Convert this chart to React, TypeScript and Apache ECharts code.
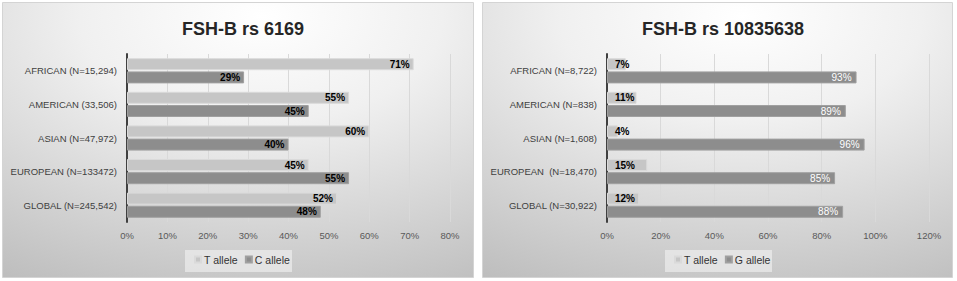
import React, { useEffect, useRef } from "react";
import * as echarts from "echarts";

const categoriesLeft = [
  "AFRICAN (N=15,294)",
  "AMERICAN (33,506)",
  "ASIAN (N=47,972)",
  "EUROPEAN (N=133472)",
  "GLOBAL (N=245,542)",
];
const tAlleleLeft = [71, 55, 60, 45, 52];
const cAlleleLeft = [29, 45, 40, 55, 48];

const categoriesRight = [
  "AFRICAN (N=8,722)",
  "AMERICAN (N=838)",
  "ASIAN (N=1,608)",
  "EUROPEAN  (N=18,470)",
  "GLOBAL (N=30,922)",
];
const tAlleleRight = [7, 11, 4, 15, 12];
const gAlleleRight = [93, 89, 96, 85, 88];

const titles = ["FSH-B rs 6169", "FSH-B rs 10835638"];
const legendLeft = ["T allele", "C allele"];
const legendRight = ["T allele", "G allele"];

const FONT = "'Liberation Sans', Arial, sans-serif";
const LIGHT = "#c6c6c6";
const DARK = "#8d8d8d";

export default function App() {
  const ref = useRef<HTMLDivElement>(null);
  useEffect(() => {
    if (!ref.current) return;
    const chart = echarts.init(ref.current, undefined, { renderer: "svg" });
    const bg = {
      type: "radial",
      x: 0.55,
      y: 0.05,
      r: 1.1,
      colorStops: [
        { offset: 0, color: "#ffffff" },
        { offset: 0.35, color: "#f0f0f0" },
        { offset: 1, color: "#bdbdbd" },
      ],
    };
    const panel = (x: number, w: number) => ({
      type: "rect",
      z: -100,
      shape: { x, y: 2.5, width: w, height: 275 },
      style: { fill: bg, stroke: "#d4d4d4", lineWidth: 1 },
    });
    const legendBox = (x: number) => ({
      type: "rect",
      z: -90,
      shape: { x, y: 250, width: 107, height: 22 },
      style: { fill: "rgba(240,240,240,0.65)" },
    });
    const yAxisCommon = {
      type: "category",
      inverse: true,
      axisTick: { show: false },
      axisLine: { show: true, lineStyle: { color: "#404040", width: 2 } },
      axisLabel: { color: "#404040", fontSize: 9.5, fontFamily: FONT, margin: 10 },
    };
    const xAxisCommon = {
      type: "value",
      min: 0,
      axisLine: { show: false },
      axisTick: { show: false },
      splitLine: { show: true, lineStyle: { color: "#d9d9d9", width: 1 } },
      axisLabel: {
        color: "#595959",
        fontSize: 9.5,
        fontFamily: FONT,
        margin: 8,
        formatter: "{value}%",
      },
    };
    const barCommon = {
      type: "bar",
      barWidth: 12,
      barGap: "10%",
    };
    const boldLabel = {
      show: true,
      color: "#000",
      fontWeight: "bold",
      fontSize: 10,
      fontFamily: FONT,
      formatter: "{c}%",
    };
    const legendCommon = {
      top: 249,
      icon: "rect",
      itemWidth: 6,
      itemHeight: 6,
      itemGap: 7,
      textStyle: { fontSize: 10.5, color: "#333333", fontFamily: FONT, padding: [0, 0, 0, -2] },
    };
    chart.setOption({
      animation: false,
      graphic: [panel(2.5, 471), panel(482.5, 470), legendBox(185), legendBox(665)],
      title: [
        {
          text: titles[0],
          left: 238,
          textAlign: "center",
          top: 15,
          textStyle: { fontSize: 18, fontWeight: "bold", color: "#262626", fontFamily: FONT },
        },
        {
          text: titles[1],
          left: 718,
          textAlign: "center",
          top: 15,
          textStyle: { fontSize: 18, fontWeight: "bold", color: "#262626", fontFamily: FONT },
        },
      ],
      legend: [
        { ...legendCommon, data: legendLeft, left: 189 },
        { ...legendCommon, data: legendRight, left: 669 },
      ],
      grid: [
        { left: 127, right: 957 - 450, top: 54, bottom: 59 },
        { left: 607, right: 957 - 929, top: 54, bottom: 59 },
      ],
      xAxis: [
        { ...xAxisCommon, gridIndex: 0, max: 80, interval: 10 },
        { ...xAxisCommon, gridIndex: 1, max: 120, interval: 20 },
      ],
      yAxis: [
        { ...yAxisCommon, gridIndex: 0, data: categoriesLeft },
        { ...yAxisCommon, gridIndex: 1, data: categoriesRight },
      ],
      series: [
        {
          ...barCommon,
          name: legendLeft[0],
          xAxisIndex: 0,
          yAxisIndex: 0,
          data: tAlleleLeft,
          itemStyle: { color: LIGHT, borderColor: "#dadada", borderWidth: 1 },
          label: { ...boldLabel, position: "insideRight", distance: 4 },
        },
        {
          ...barCommon,
          name: legendLeft[1],
          xAxisIndex: 0,
          yAxisIndex: 0,
          data: cAlleleLeft,
          itemStyle: { color: DARK, borderColor: "#a0a0a0", borderWidth: 1 },
          label: { ...boldLabel, position: "insideRight", distance: 4 },
        },
        {
          ...barCommon,
          name: legendRight[0],
          xAxisIndex: 1,
          yAxisIndex: 1,
          data: tAlleleRight,
          itemStyle: { color: LIGHT, borderColor: "#dadada", borderWidth: 1 },
          label: { ...boldLabel, position: "insideLeft", distance: 8 },
        },
        {
          ...barCommon,
          name: legendRight[1],
          xAxisIndex: 1,
          yAxisIndex: 1,
          data: gAlleleRight,
          itemStyle: { color: DARK, borderColor: "#a0a0a0", borderWidth: 1 },
          label: {
            show: true,
            position: "insideRight",
            distance: 5,
            color: "#ffffff",
            fontSize: 10,
            fontFamily: FONT,
            formatter: "{c}%",
          },
        },
      ],
    });
    return () => chart.dispose();
  }, []);
  return (
    <div
      ref={ref}
      style={{ position: "absolute", left: 0, top: 0, width: 957, height: 281, background: "#fff" }}
    />
  );
}
